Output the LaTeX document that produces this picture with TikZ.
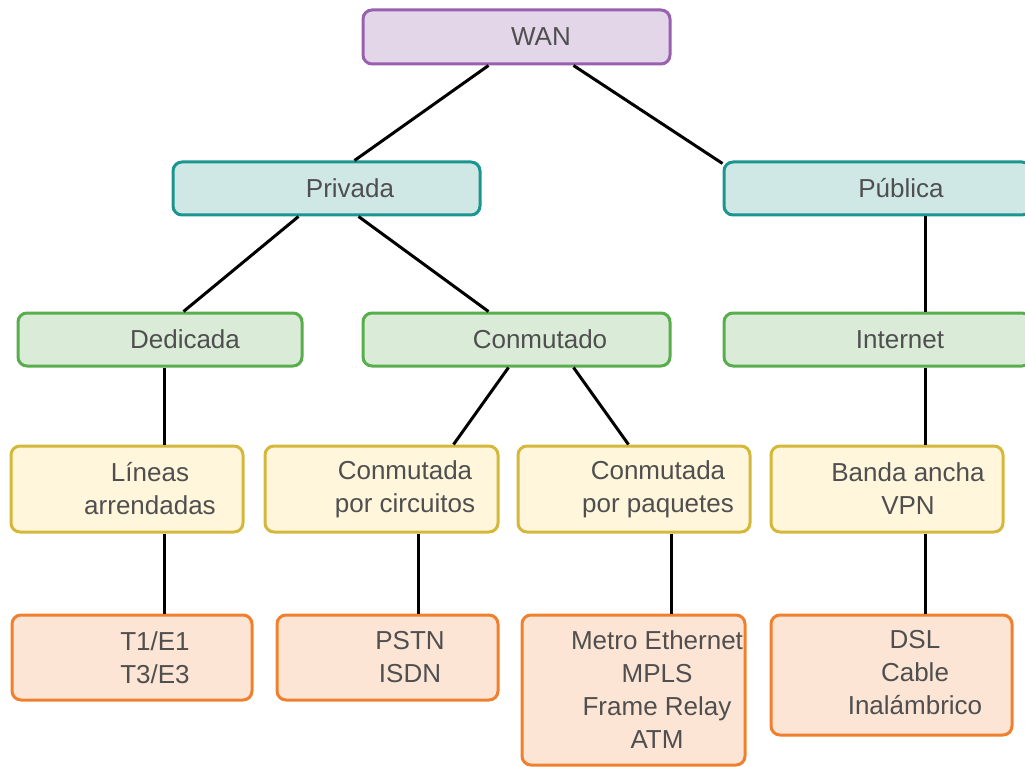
\documentclass[tikz,border=0pt]{standalone}
\usepackage{fontspec}
\setmainfont{Liberation Sans}
\usetikzlibrary{calc}
\definecolor{txt}{HTML}{4F4F4F}
\definecolor{purF}{HTML}{E2D6E8}\definecolor{purD}{HTML}{9A60B0}
\definecolor{tealF}{HTML}{CFE8E6}\definecolor{tealD}{HTML}{1A958F}
\definecolor{grnF}{HTML}{DAEBD8}\definecolor{grnD}{HTML}{58AD4C}
\definecolor{ylwF}{HTML}{FFF6DC}\definecolor{ylwD}{HTML}{D4B83C}
\definecolor{orgF}{HTML}{FDE5D5}\definecolor{orgD}{HTML}{F0802E}
\tikzset{
  box/.style={draw, line width=3pt, rounded corners=9pt, inner sep=0pt},
  lvA/.style={box, draw=purD, fill=purF},
  lvB/.style={box, draw=tealD, fill=tealF},
  lvC/.style={box, draw=grnD, fill=grnF},
  lvD/.style={box, draw=ylwD, fill=ylwF},
  lvE/.style={box, draw=orgD, fill=orgF},
  lbl/.style={text=txt, align=center, inner sep=0pt,
    font=\fontsize{26}{33}\selectfont},
  link/.style={line width=3pt, black}
}
\begin{document}
\begin{tikzpicture}[x=1pt,y=-1pt]
\useasboundingbox (0,0) rectangle (1025,767);
% boxes
\node[lvA, minimum width=307pt, minimum height=54pt] (wan) at (516.5,37) {};
\node[lvB, minimum width=307pt, minimum height=53pt] (priv) at (326.5,188.5) {};
\node[lvB, minimum width=307pt, minimum height=53pt] (pub) at (877.5,188.5) {};
\node[lvC, minimum width=284pt, minimum height=53pt] (ded) at (160,339.5) {};
\node[lvC, minimum width=307pt, minimum height=53pt] (conm) at (516.5,339.5) {};
\node[lvC, minimum width=307pt, minimum height=53pt] (inet) at (877.5,339.5) {};
\node[lvD, minimum width=232pt, minimum height=86pt] (lin) at (127,489) {};
\node[lvD, minimum width=233pt, minimum height=86pt] (circ) at (381.5,489) {};
\node[lvD, minimum width=232pt, minimum height=86pt] (paq) at (634,489) {};
\node[lvD, minimum width=232pt, minimum height=86pt] (banda) at (887,489) {};
\node[lvE, minimum width=240pt, minimum height=85pt] (t1) at (132,657.5) {};
\node[lvE, minimum width=221pt, minimum height=85pt] (pstn) at (387.5,657.5) {};
\node[lvE, minimum width=223pt, minimum height=150pt] (metro) at (633.5,690) {};
\node[lvE, minimum width=241pt, minimum height=120pt] (dsl) at (891.5,675) {};
% connectors between the tree levels
\draw[link] ($(wan.south west)+(127,0)$) -- ($(priv.north west)+(183,0)$);
\draw[link] ($(wan.south west)+(212,0)$) -- ($(pub.north west)+(0,3)$);
\draw[link] ($(priv.south west)+(127,0)$) -- ($(ded.north west)+(167,0)$);
\draw[link] ($(priv.south west)+(187,0)$) -- ($(conm.north west)+(127,0)$);
\draw[link] ($(pub.south west)+(203,0)$) -- ($(inet.north west)+(203,0)$);
\draw[link] ($(ded.south west)+(148,0)$) -- ($(lin.north west)+(155,0)$);
\draw[link] ($(conm.south west)+(147,0)$) -- ($(circ.north west)+(190,0)$);
\draw[link] ($(conm.south west)+(212,0)$) -- ($(paq.north west)+(112,0)$);
\draw[link] ($(inet.south west)+(203,0)$) -- ($(banda.north west)+(156,0)$);
\draw[link] ($(lin.south west)+(155,0)$) -- ($(t1.north west)+(154,0)$);
\draw[link] ($(circ.south west)+(155,0)$) -- ($(pstn.north west)+(143,0)$);
\draw[link] ($(paq.south west)+(155,0)$) -- ($(metro.north west)+(151,0)$);
\draw[link] ($(banda.south west)+(156,0)$) -- ($(dsl.north west)+(156,0)$);
% labels
\node[lbl] (wanT) at (541,37) {WAN};
\node[lbl] (privT) at (350,188.5) {Privada};
\node[lbl] (pubT) at (901,188.5) {Pública};
\node[lbl] (dedT) at (185,339.5) {Dedicada};
\node[lbl] (conmT) at (540,339.5) {Conmutado};
\node[lbl] (inetT) at (900,339.5) {Internet};
\node[lbl] (linT) at (150,489) {Líneas\\arrendadas};
\node[lbl] (circT) at (405,489) {Conmutada\\por circuitos};
\node[lbl] (paqT) at (658,489) {Conmutada\\por paquetes};
\node[lbl] (bandaT) at (908,489) {Banda ancha\\VPN};
\node[lbl] (t1T) at (155,657.5) {T1/E1\\T3/E3};
\node[lbl] (pstnT) at (410,657.5) {PSTN\\ISDN};
\node[lbl] (metroT) at (657,690) {Metro Ethernet\\MPLS\\Frame Relay\\ATM};
\node[lbl] (dslT) at (915,673) {DSL\\Cable\\Inalámbrico};
\end{tikzpicture}
\end{document}
